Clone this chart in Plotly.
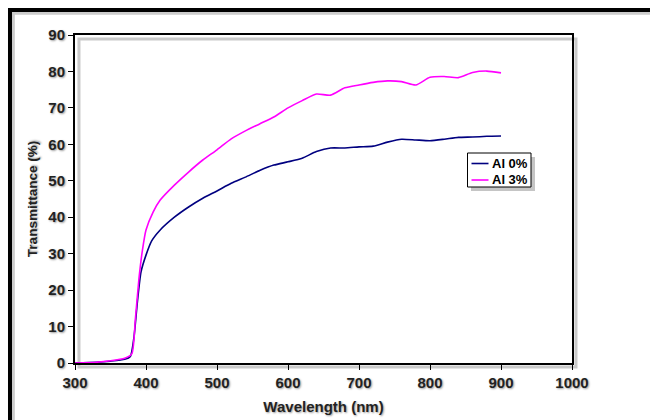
import plotly.graph_objects as go

wl_al0 = [300, 330, 350, 370, 378, 383, 388, 393, 400, 408, 420, 440, 460, 480, 500, 520, 540, 560, 580, 600, 620, 640, 660, 680, 700, 720, 740, 760, 780, 800, 820, 840, 860, 880, 900]
t_al0 = [0, 0.2, 0.5, 1.0, 1.8, 7, 17, 25, 29.6, 33.5, 36.5, 40, 42.8, 45.2, 47.2, 49.3, 51, 52.8, 54.3, 55.2, 56.2, 58, 59, 59, 59.3, 59.5, 60.6, 61.4, 61.2, 61, 61.4, 61.9, 62, 62.2, 62.3]

wl_al3 = [300, 330, 350, 370, 380, 385, 390, 395, 400, 410, 420, 440, 460, 480, 500, 520, 540, 560, 580, 600, 620, 640, 660, 680, 700, 720, 740, 760, 780, 800, 820, 840, 860, 880, 900]
t_al3 = [0, 0.2, 0.6, 1.3, 2.5, 12, 23, 31, 36.5, 41.4, 44.7, 48.8, 52.4, 55.7, 58.5, 61.5, 63.7, 65.6, 67.5, 70, 72, 73.8, 73.5, 75.5, 76.3, 77, 77.4, 77.2, 76.3, 78.4, 78.6, 78.3, 79.7, 80.1, 79.6]

series_names = ["Al 0%", "Al 3%"]
series_colors = ["#000080", "#FF00FF"]

x_ticks = [300, 400, 500, 600, 700, 800, 900, 1000]
y_ticks = [0, 10, 20, 30, 40, 50, 60, 70, 80, 90]

font_family = "Liberation Sans, Arial, sans-serif"
shadow = "1px 1px 2px #9a9a9a"

fig = go.Figure()
for xs, ys, nm, col in [(wl_al0, t_al0, series_names[0], series_colors[0]),
                        (wl_al3, t_al3, series_names[1], series_colors[1])]:
    fig.add_trace(go.Scatter(x=xs, y=ys, mode="lines", name=nm, showlegend=False,
                             line=dict(color=col, width=1.6, shape="spline", smoothing=0.6)))

axis_common = dict(showgrid=False, zeroline=False, showline=True, linecolor="black", linewidth=2,
                   mirror=True, ticks="outside", ticklen=5, tickcolor="black", tickwidth=1,
                   automargin=False,
                   tickfont=dict(family=font_family, size=15, color="#222", weight="bold", shadow=shadow))

fig.update_xaxes(range=[300, 1000], tickvals=x_ticks, ticktext=[str(v) for v in x_ticks],
                 title=dict(text="Wavelength (nm)", standoff=11,
                            font=dict(family=font_family, size=15, color="#222", weight="bold", shadow=shadow)),
                 **axis_common)
fig.update_yaxes(range=[0, 90], tickvals=y_ticks, ticktext=[str(v) for v in y_ticks],
                 title=dict(text="Transmittance (%)", standoff=8,
                            font=dict(family=font_family, size=13.5, color="#222", weight="bold", shadow=shadow)),
                 **axis_common)

# pixel -> paper helpers for the custom legend box (plot area: x 75..572, y 35..363)
def px(x):
    return (x - 75) / 497.0

def py(y):
    return (363 - y) / 328.0

shapes = [
    # plot area drop shadow
    dict(type="rect", xref="paper", yref="paper", x0=0.008, x1=1.008, y0=-0.012, y1=0.988,
         line=dict(color="rgba(150,150,150,0.5)", width=3), layer="below"),
    # outer frame shadow
    dict(type="rect", xref="paper", yref="paper", x0=-0.124, x1=1.2, y0=-0.25, y1=1.066,
         line=dict(color="rgba(170,170,170,0.6)", width=3), layer="below"),
    # outer frame
    dict(type="rect", xref="paper", yref="paper", x0=-0.1308, x1=1.2, y0=-0.25, y1=1.0762,
         line=dict(color="black", width=4), layer="above"),
    # legend shadow
    dict(type="rect", xref="paper", yref="paper", x0=px(471), x1=px(535), y0=py(191), y1=py(157),
         fillcolor="rgba(150,150,150,0.55)", line=dict(width=0), layer="above"),
    # legend box
    dict(type="rect", xref="paper", yref="paper", x0=px(467.5), x1=px(531), y0=py(187), y1=py(153),
         fillcolor="white", line=dict(color="black", width=1), layer="above"),
]

annotations = []
row_y = [163.5, 180]
for i, nm in enumerate(series_names):
    shapes.append(dict(type="line", xref="paper", yref="paper", x0=px(471.5), x1=px(488.5),
                       y0=py(row_y[i]), y1=py(row_y[i]),
                       line=dict(color=series_colors[i], width=1.6), layer="above"))
    annotations.append(dict(text=nm, xref="paper", yref="paper", x=px(490), y=py(row_y[i]),
                            xanchor="left", yanchor="middle", showarrow=False,
                            font=dict(family=font_family, size=13, color="black", weight="bold")))

fig.update_layout(
    width=650, height=420,
    margin=dict(l=75, r=78, t=35, b=57),
    paper_bgcolor="white", plot_bgcolor="white",
    font=dict(family=font_family, size=12, color="#222"),
    showlegend=False,
    shapes=shapes,
    annotations=annotations,
)

fig.write_html("out.html", config={"displayModeBar": False},
               post_script="document.body.style.margin='0';document.body.style.overflow='hidden';")
